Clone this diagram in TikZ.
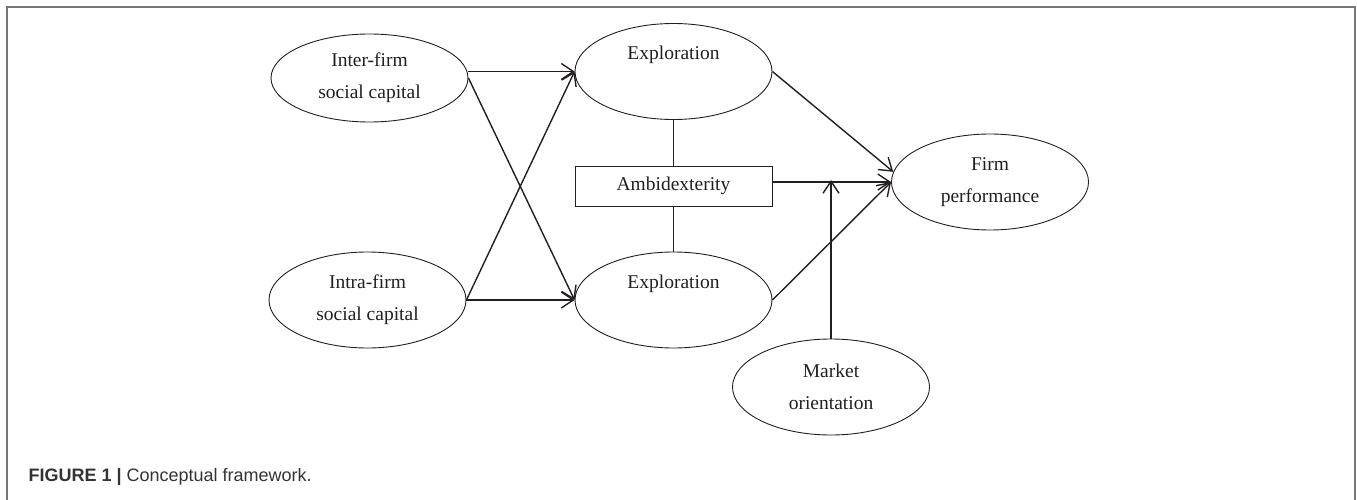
\documentclass[tikz,border=0pt]{standalone}
\usepackage{fontspec}
\setmainfont{Liberation Serif}
\newfontfamily\capfont{Liberation Sans}
\usetikzlibrary{arrows.meta}
\usetikzlibrary{shapes.geometric}
\definecolor{ink}{HTML}{231F20}
\definecolor{framegray}{HTML}{767676}
\definecolor{captext}{HTML}{333333}

\begin{document}
\begin{tikzpicture}[x=1pt, y=-1pt,
	every node/.style={text=ink, font=\fontsize{19.5}{32}\selectfont},
	latent/.style={draw=ink, line width=0.9pt, ellipse, minimum width=197pt, minimum height=96pt, inner sep=0pt, align=center},
	oneline/.style={text height=13pt, text depth=36pt},
	box/.style={draw=ink, line width=0.9pt, rectangle, minimum width=197pt, minimum height=40pt, inner sep=0pt},
	arr/.style={draw=ink, line width=1.4pt, -{Straight Barb[length=12pt,width=16pt]}},
	link/.style={draw=ink, line width=0.9pt}]
	% page 1357 x 500, 1pt = 1px
	\useasboundingbox (0,0) rectangle (1357,500);
	% frame, open at the bottom
	\draw[framegray, line width=1.5pt] (7,500) -- (7,7) -- (1355,7) -- (1355,500);
	% social capital
	\node[latent, minimum height=88pt] (inter) at (369.5,78) {Inter-firm\\social capital};
	\node[latent] (intra) at (367.5,300) {Intra-firm\\social capital};
	% exploration / ambidexterity
	\node[latent, oneline] (explore1) at (673.5,71.5) {Exploration};
	\node[box] (ambi) at (673.5,186) {Ambidexterity};
	\node[latent, oneline] (explore2) at (673.5,300) {Exploration};
	% outcome and moderator
	\node[latent] (firm) at (990,182) {Firm\\performance};
	\node[latent] (market) at (831,387) {Market\\orientation};
	% paths
	\draw[arr] (inter.east |- explore1.west) -- (explore1.west);
	\draw[arr] (inter.east) -- (explore2.west);
	\draw[arr] (intra.east) -- (explore1.west);
	\draw[arr] (intra.east) -- (explore2.west);
	\draw[link] (explore1.south) -- (ambi.north);
	\draw[link] (ambi.south) -- (explore2.north);
	\draw[arr] (explore1.east) -- (firm.174);
	\draw[arr] (ambi.east |- firm.west) -- (firm.west);
	\draw[arr] (explore2.east) -- (firm.west);
	\draw[arr] (market.north) -- ([yshift=2pt]market.north |- firm.west);
	% caption
	\node[anchor=base west, text=captext, font=\capfont\fontsize{18}{20}\selectfont] (caption) at (25,481) {\textbf{FIGURE 1 |} Conceptual framework.};
\end{tikzpicture}
\end{document}
